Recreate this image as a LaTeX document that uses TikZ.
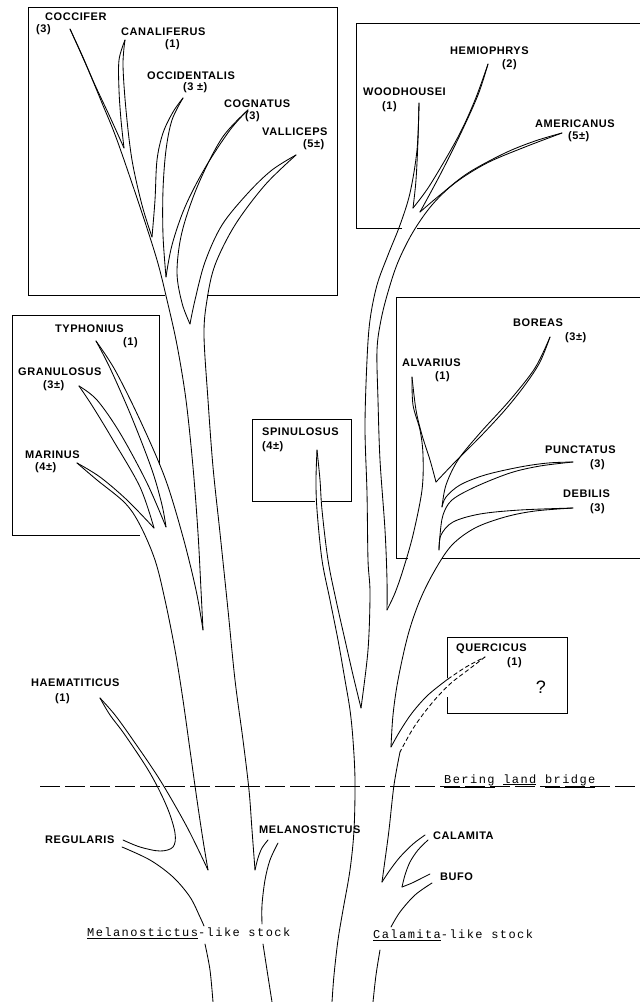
\documentclass[tikz,border=0pt]{standalone}
\usepackage{fontspec}
\newfontfamily\lab[LetterSpace=5]{Liberation Sans}
\newfontfamily\tw[LetterSpace=12]{Liberation Mono}
\newcommand\brseg[1]{\draw[br] plot[smooth,tension=0.55] coordinates {#1};}
\tikzset{
  br/.style={line width=0.85pt, line join=round, line cap=round},
  dbr/.style={br, dash pattern=on 4pt off 3pt},
  bx/.style={line width=0.8pt},
  lb/.style={font=\lab\bfseries\fontsize{11}{12}\selectfont, inner sep=0pt, anchor=west},
  tl/.style={font=\tw\fontsize{12}{13}\selectfont, inner sep=0pt, anchor=west},
}
\begin{document}
\begin{tikzpicture}[x=1pt,y=-1pt]
\useasboundingbox (0,0) rectangle (640,1002);
% ---------- boxes ----------
\draw[bx] (165,295) -- (28,295) -- (28,7) -- (337,7) -- (337,295) -- (207,295);
\draw[bx] (402,228) -- (356,228) -- (356,23) -- (640,23);
\draw[bx] (417,228) -- (640,228);
\draw[bx] (408,558) -- (396,558) -- (396,297) -- (640,297);
\draw[bx] (442,558) -- (640,558);
\draw[bx] (159,465) -- (159,315) -- (12,315) -- (12,535) -- (140,535);
\draw[bx] (315,501) -- (252,501) -- (252,419) -- (351,419) -- (351,501) -- (322,501);
\draw[bx] (447,678) -- (447,637) -- (567,637) -- (567,713) -- (447,713) -- (447,697);
% ---------- Bering line ----------
\draw[line width=0.8pt, dash pattern=on 20pt off 5pt] (40,786) -- (640,786);
% ---------- left tree ----------
\brseg{(70,29) (87,67) (102,103) (117,140) (140,207) (157,260) (167,300) (177,345) (186,400) (193,467) (198,533) (201,590) (203,630)}
\brseg{(70,29) (82,55) (95,85) (110,117) (124,148)}
\brseg{(124,148) (121,120) (119,90) (119,60) (125,40)}
\brseg{(125,40) (123,65) (126,110) (132,160) (142,205) (152,237)}
\brseg{(152,237) (155,200) (157,160) (163,133) (173,112) (183,98)}
\brseg{(183,98) (172,120) (166,150) (163,190) (163,235) (166,277)}
\brseg{(166,277) (172,245) (185,207) (205,168) (230,130) (248,110)}
\brseg{(248,110) (222,138) (198,185) (182,232) (177,272) (182,303) (190,324)}
\brseg{(190,324) (195,300) (205,262) (222,225) (248,193) (272,170) (296,155)}
\brseg{(296,155) (265,185) (235,225) (215,265) (207,300) (204,335) (208,400) (213,467) (220,533) (228,610) (235,680) (243,740) (249,790) (252,830) (255,870)}
\brseg{(255,870) (258,858) (262,848) (268,840)}
\brseg{(278,843) (270,860) (265,880) (262,905) (262,924)}
\brseg{(263,944) (267,970) (272,1002)}
\brseg{(96,341) (115,370) (140,420) (165,478) (183,537) (196,590) (203,630)}
\brseg{(96,341) (110,368) (132,418) (152,470) (162,505) (166,527)}
\brseg{(79,386) (97,400) (120,433) (147,483) (166,527)}
\brseg{(154,528) (140,487) (113,440) (93,407) (79,386)}
\brseg{(154,528) (127,500) (100,477) (77,463)}
\brseg{(77,463) (97,480) (125,503) (140,525) (155,560) (165,600) (175,650) (183,700) (190,750) (197,800) (203,840) (208,870)}
\brseg{(100,698) (115,715) (133,740) (160,780) (187,827) (208,870)}
\brseg{(100,698) (110,715) (125,735) (150,773) (167,807) (175,833) (173,847) (160,851) (140,847) (123,840)}
\brseg{(122,847) (150,860) (173,877) (190,897) (200,917) (204,926)}
\brseg{(205,944) (210,970) (213,1002)}
% ---------- right tree ----------
\brseg{(419,103) (417,150) (410,193) (400,225) (388,255) (377,285) (370,320) (367,360) (365,427) (367,493) (368,560) (370,593) (368,650) (361,708)}
\brseg{(419,103) (418,140) (416,180) (413,208)}
\brseg{(413,208) (430,185) (458,137) (475,100) (488,64)}
\brseg{(488,64) (478,95) (460,135) (440,175) (420,212)}
\brseg{(420,212) (440,195) (468,173) (505,153) (535,141) (562,133)}
\brseg{(562,133) (525,147) (487,163) (455,183) (432,205) (413,232) (398,262) (388,292) (381,320) (377,350) (378,400) (380,460) (385,530) (387,580) (387,610)}
\brseg{(387,610) (395,593) (403,570) (413,535) (422,490) (423,455) (420,430) (413,405) (412,377)}
\brseg{(412,377) (416,410) (422,435) (430,460) (436,482)}
\brseg{(436,482) (455,462) (480,437) (505,410) (525,385) (540,362) (550,337)}
\brseg{(550,337) (535,368) (510,400) (480,433) (458,460) (446,485) (442,507)}
\brseg{(442,507) (446,497) (460,485) (485,475) (520,467) (548,463) (573,462)}
\brseg{(573,462) (540,466) (510,473) (475,487) (452,500) (443,515) (440,535) (439,550)}
\brseg{(439,550) (441,535) (453,522) (480,514) (520,510) (573,508)}
\brseg{(573,508) (535,511) (505,517) (475,528) (452,545) (435,570) (420,600) (408,635) (398,680) (393,715) (391,747)}
\brseg{(391,747) (400,731) (412,713) (428,695) (448,679)}
\draw[dbr] plot[smooth,tension=0.55] coordinates {(448,679) (466,667) (485,657)};
\draw[dbr] plot[smooth,tension=0.55] coordinates {(485,657) (468,670) (450,684) (432,703) (414,727) (400,752)};
\brseg{(400,752) (394,785) (389,830) (385,860) (382,882)}
\brseg{(382,882) (390,870) (400,857) (413,844) (425,835)}
\brseg{(428,840) (418,850) (410,862) (405,875) (402,887)}
\brseg{(402,887) (412,883) (422,878) (430,874)}
\brseg{(432,883) (415,895) (400,912) (391,927)}
\brseg{(380,950) (376,975) (373,1002)}
\brseg{(317,450) (316,480) (317,510) (322,560) (330,600) (338,640) (345,680) (350,710) (353,740) (355,780) (354,830) (350,870) (343,910) (338,940) (334,975) (332,1002)}
\brseg{(317,450) (320,480) (322,510) (328,560) (336,600) (345,640) (353,675) (361,708)}
% ---------- labels ----------
\node[lb] (coc) at (45,17) {COCCIFER};
\node[lb] (cocn) at (36,30) {(3)};
\node[lb] (can) at (121,32) {CANALIFERUS};
\node[lb] (cann) at (165,45) {(1)};
\node[lb] (occ) at (147,76) {OCCIDENTALIS};
\node[lb] (occn) at (183,88) {(3 ±)};
\node[lb] (cog) at (224,104) {COGNATUS};
\node[lb] (cogn) at (245,117) {(3)};
\node[lb] (val) at (262,132) {VALLICEPS};
\node[lb] (valn) at (303,145) {(5±)};
\node[lb] (woo) at (363,92) {WOODHOUSEI};
\node[lb] (woon) at (382,107) {(1)};
\node[lb] (hem) at (450,51) {HEMIOPHRYS};
\node[lb] (hemn) at (502,65) {(2)};
\node[lb] (ame) at (535,124) {AMERICANUS};
\node[lb] (amen) at (568,137) {(5±)};
\node[lb] (bor) at (513,323) {BOREAS};
\node[lb] (born) at (565,338) {(3±)};
\node[lb] (alv) at (402,363) {ALVARIUS};
\node[lb] (alvn) at (435,377) {(1)};
\node[lb] (pun) at (545,450) {PUNCTATUS};
\node[lb] (punn) at (590,465) {(3)};
\node[lb] (deb) at (563,494) {DEBILIS};
\node[lb] (debn) at (590,509) {(3)};
\node[lb] (typ) at (55,329) {TYPHONIUS};
\node[lb] (typn) at (123,343) {(1)};
\node[lb] (gra) at (18,372) {GRANULOSUS};
\node[lb] (gran) at (43,386) {(3±)};
\node[lb] (mar) at (25,455) {MARINUS};
\node[lb] (marn) at (35,468) {(4±)};
\node[lb] (spi) at (262,432) {SPINULOSUS};
\node[lb] (spin) at (262,447) {(4±)};
\node[lb] (hae) at (31,683) {HAEMATITICUS};
\node[lb] (haen) at (55,699) {(1)};
\node[lb] (reg) at (45,840) {REGULARIS};
\node[lb] (mel) at (259,830) {MELANOSTICTUS};
\node[lb] (que) at (456,649) {QUERCICUS};
\node[lb] (quen) at (507,663) {(1)};
\node[font=\lab\fontsize{18}{19}\selectfont, inner sep=0pt] (qq) at (541,687) {?};
\node[lb] (cal) at (433,836) {CALAMITA};
\node[lb] (buf) at (440,877) {BUFO};
\node[tl, anchor=base west] (ber) at (444,783) {\underline{Bering} \underline{land} \underline{bridge}};
\node[tl] (mst) at (87,933) {\underline{Melanostictus}-like stock};
\node[tl] (cst) at (373,935) {\underline{Calamita}-like stock};
\end{tikzpicture}
\end{document}
